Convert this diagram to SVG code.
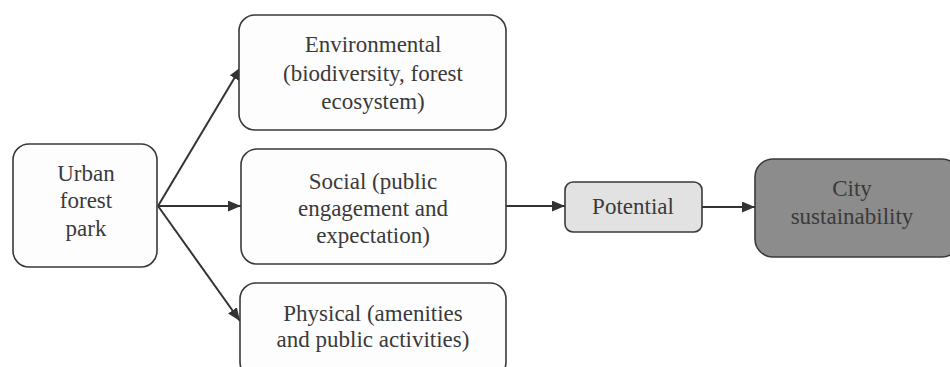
<svg xmlns="http://www.w3.org/2000/svg" width="950" height="367" viewBox="0 0 950 367">
<style>
.box{fill:#fdfdfd;stroke:#3a3a3a;stroke-width:1.6}
.t{font-family:'Liberation Serif','Times New Roman','DejaVu Serif',serif;font-size:23px;fill:#3a3a3a;text-anchor:middle}
.c{stroke:#333;stroke-width:2;fill:none}
</style>
<defs>
<marker id="ah" viewBox="0 0 12 10" refX="12" refY="5" markerWidth="13" markerHeight="11" orient="auto" markerUnits="userSpaceOnUse">
<path d="M0,0 L12,5 L0,10 z" fill="#333"/>
</marker>
</defs>
<rect width="950" height="367" fill="#ffffff"/>
<g id="connectors">
<path class="c" d="M158,206 L241,67" marker-end="url(#ah)"/>
<path class="c" d="M158,206 L241,206" marker-end="url(#ah)"/>
<path class="c" d="M158,206 L240,321" marker-end="url(#ah)"/>
<path class="c" d="M506,206 L565,206" marker-end="url(#ah)"/>
<path class="c" d="M702,207 L755,207" marker-end="url(#ah)"/>
</g>
<g id="urban">
<rect class="box" x="13" y="144" width="144" height="123" rx="16"/>
<text class="t" x="86" y="181">Urban</text>
<text class="t" x="86" y="208">forest</text>
<text class="t" x="86" y="236">park</text>
</g>
<g id="environmental">
<rect class="box" x="239" y="15" width="267" height="115" rx="16"/>
<text class="t" x="373" y="52">Environmental</text>
<text class="t" x="373" y="81">(biodiversity, forest</text>
<text class="t" x="373" y="109">ecosystem)</text>
</g>
<g id="social">
<rect class="box" x="241" y="149" width="265" height="115" rx="16"/>
<text class="t" x="373" y="189">Social (public</text>
<text class="t" x="373" y="216">engagement and</text>
<text class="t" x="373" y="243">expectation)</text>
</g>
<g id="physical">
<rect class="box" x="240" y="283" width="266" height="95" rx="16"/>
<text class="t" x="373" y="321">Physical (amenities</text>
<text class="t" x="373" y="347">and public activities)</text>
</g>
<g id="potential">
<rect class="box" x="565" y="182" width="137" height="50" rx="8" style="fill:#e2e2e2"/>
<text class="t" x="633" y="214">Potential</text>
</g>
<g id="city">
<rect class="box" x="755" y="159" width="205" height="98" rx="18" style="fill:#8c8c8c"/>
<text class="t" x="852" y="196">City</text>
<text class="t" x="852" y="224">sustainability</text>
</g>
</svg>
